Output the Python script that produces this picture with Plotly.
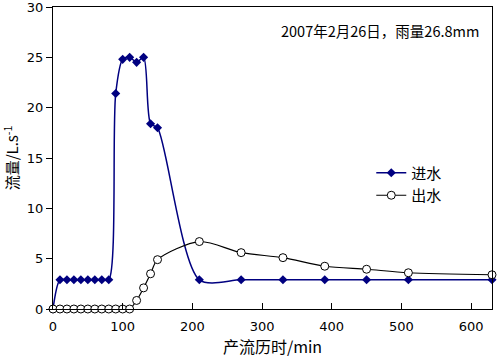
import plotly.graph_objects as go

in_t = [0, 10, 20, 30, 40, 50, 60, 70, 80, 90, 100, 110, 120, 130, 140, 150, 210, 270, 330, 390, 450, 510, 630]
in_q = [0, 2.9, 2.9, 2.9, 2.9, 2.9, 2.9, 2.9, 2.9, 21.4, 24.8, 25.0, 24.5, 25.0, 18.4, 18.0, 2.9, 2.9, 2.9, 2.9, 2.9, 2.9, 2.9]
out_t = [0, 10, 20, 30, 40, 50, 60, 70, 80, 90, 100, 110, 120, 130, 140, 150, 210, 270, 330, 390, 450, 510, 630]
out_q = [0, 0, 0, 0, 0, 0, 0, 0, 0, 0, 0, 0, 0.85, 2.1, 3.5, 4.9, 6.7, 5.6, 5.1, 4.25, 3.95, 3.6, 3.4]
y_ticks = [0, 5, 10, 15, 20, 25, 30]
x_ticks = [0, 100, 200, 300, 400, 500, 600]

font_fam = "Noto Sans CJK SC, DejaVu Sans, sans-serif"
tick_font = dict(family="DejaVu Sans, sans-serif", size=13, color="black")

fig = go.Figure()
fig.add_trace(go.Scatter(
    x=in_t, y=in_q, name="进水", mode="lines+markers", cliponaxis=False,
    line=dict(color="#000080", width=1.5, shape="spline", smoothing=0.8),
    marker=dict(symbol="diamond", size=7, color="#000080"),
))
fig.add_trace(go.Scatter(
    x=out_t, y=out_q, name="出水", mode="lines+markers", cliponaxis=False,
    line=dict(color="black", width=1.2, shape="spline", smoothing=0.8),
    marker=dict(symbol="circle", size=8, color="white", line=dict(color="black", width=1)),
))

fig.update_layout(
    width=498, height=362,
    margin=dict(l=53, r=6, t=7, b=53),
    paper_bgcolor="white", plot_bgcolor="white",
    font=dict(family=font_fam, size=14, color="black"),
    legend=dict(x=0.725, y=0.505, xanchor="left", yanchor="top",
                bgcolor="rgba(0,0,0,0)", font=dict(size=15), tracegroupgap=0),
    annotations=[dict(text="2007年2月26日，雨量26.8mm", x=0.975, y=0.965, xref="paper", yref="paper",
                      xanchor="right", yanchor="top", showarrow=False, font=dict(size=14.5))],
)
fig.update_xaxes(range=[0, 630], tickvals=x_ticks, ticklabeloverflow="allow", tickfont=tick_font,
                 ticks="inside", ticklen=6, tickcolor="black", automargin=False, ticklabelstandoff=5,
                 showline=True, linecolor="black", linewidth=1, mirror=True,
                 showgrid=False, zeroline=False,
                 title=dict(text="产流历时/min", font=dict(size=16), standoff=6))
fig.update_yaxes(range=[0, 30], tickvals=y_ticks, ticklabeloverflow="allow", tickfont=tick_font,
                 ticks="outside", ticklen=6, tickcolor="black", automargin=False,
                 showline=True, linecolor="black", linewidth=1, mirror=True,
                 showgrid=False, zeroline=False,
                 title=dict(text="流量/L.s<sup>-1</sup>", font=dict(size=15), standoff=6))

fig.write_html("out.html", config={"displayModeBar": False})
with open("out.html", encoding="utf-8") as f:
    html = f.read()
html = html.replace("<head>", "<head><style>html,body{margin:0;padding:0;overflow:hidden;}</style>", 1)
with open("out.html", "w", encoding="utf-8") as f:
    f.write(html)
